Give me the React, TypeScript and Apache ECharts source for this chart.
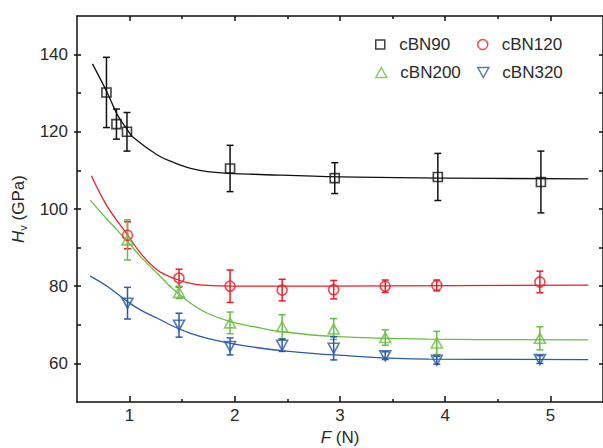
import React, { useEffect, useRef } from 'react';
import * as echarts from 'echarts';

const FONT = '"Liberation Sans", Arial, Helvetica, sans-serif';

const seriesNames = ['cBN90', 'cBN120', 'cBN200', 'cBN320'];
const seriesColors = ['#111111', '#ee1c25', '#6abd45', '#2b5aa8'];

// Measured points (F in N, Hv in GPa, error +/-)
const f90 = [0.78, 0.875, 0.975, 1.955, 2.95, 3.93, 4.91];
const hv90 = [130.2, 122.0, 120.0, 110.5, 108.0, 108.3, 107.0];
const err90 = [9.1, 3.9, 5.0, 6.0, 4.0, 6.1, 8.0];

const fOthers = [0.98, 1.47, 1.955, 2.45, 2.94, 3.43, 3.92, 4.9];
const hv120 = [93.2, 82.1, 80.0, 79.0, 79.1, 80.0, 80.2, 81.1];
const err120 = [3.5, 2.3, 4.2, 2.8, 2.4, 1.6, 1.4, 2.8];
const hv200 = [92.0, 78.4, 70.5, 69.5, 68.9, 66.7, 65.3, 66.5];
const err200 = [5.2, 1.6, 2.8, 3.1, 2.7, 2.0, 3.0, 3.0];
const hv320 = [75.6, 69.9, 64.4, 64.7, 63.9, 62.0, 60.8, 61.0];
const err320 = [4.1, 3.1, 2.2, 1.6, 3.0, 1.0, 1.0, 1.0];

// Fitted curves
const fit90 = [[0.647, 137.6], [0.79, 130.0], [0.884, 124.4], [0.98, 120.5], [1.027, 118.7], [1.264, 114.0], [1.423, 112.0], [1.58, 110.5], [1.74, 109.7], [1.955, 109.25], [2.18, 109.0], [3.0, 108.3], [4.0, 108.0], [5.36, 107.8]];
const fit120 = [[0.637, 108.6], [0.789, 100.6], [0.98, 93.3], [1.106, 88.5], [1.264, 84.2], [1.423, 82.0], [1.58, 80.75], [1.74, 80.2], [1.96, 80.0], [2.18, 80.0], [3.5, 80.1], [5.36, 80.3]];
const fit200 = [[0.625, 102.3], [0.79, 97.2], [0.98, 91.6], [1.106, 87.6], [1.264, 83.3], [1.423, 79.0], [1.58, 75.6], [1.74, 73.0], [1.96, 70.8], [2.18, 69.5], [2.45, 68.2], [2.94, 67.0], [3.84, 66.3], [5.36, 66.1]];
const fit320 = [[0.625, 82.6], [0.79, 79.9], [0.98, 76.0], [1.106, 73.8], [1.264, 71.7], [1.423, 69.5], [1.58, 67.8], [1.74, 66.5], [1.96, 65.2], [2.18, 64.2], [2.45, 63.3], [2.94, 62.2], [3.84, 61.1], [5.36, 61.0]];

const xLabelValues = [1, 2, 3, 4, 5];
const xMinorValues = [1.5, 2.5, 3.5, 4.5];
const yLabelValues = [60, 80, 100, 120, 140];
const yMinorValues = [60, 70, 80, 90, 100, 110, 120, 130, 140];

const symbols = [
  'path://M0,0 L10,0 L10,10 L0,10 Z',
  'circle',
  'path://M5,0 L10,9 L0,9 Z',
  'path://M0,0 L10,0 L5,9 Z',
];
const symbolSizes: any[] = [9, 10, [11, 10], [11, 10]];

const AXIS_COLOR = '#111';
const TEXT_COLOR = '#2a2a2a';

export default function App() {
  const ref = useRef<HTMLDivElement>(null);

  useEffect(() => {
    if (!ref.current) return;
    const chart = echarts.init(ref.current, undefined, { renderer: 'svg' });

    const pointSets = [
      { xs: f90, ys: hv90, es: err90 },
      { xs: fOthers, ys: hv120, es: err120 },
      { xs: fOthers, ys: hv200, es: err200 },
      { xs: fOthers, ys: hv320, es: err320 },
    ];
    const fits = [fit90, fit120, fit200, fit320];

    const series: any[] = [];
    seriesNames.forEach((name, i) => {
      const c = seriesColors[i];
      const ps = pointSets[i];
      series.push({
        name: name + ' fit',
        type: 'line',
        data: fits[i],
        smooth: 0.4,
        showSymbol: false,
        symbol: 'none',
        lineStyle: { color: c, width: 1.3 },
        z: 2,
      });
      series.push({
        name: name + ' err',
        type: 'custom',
        data: ps.xs.map((x, k) => [x, ps.ys[k] - ps.es[k], ps.ys[k] + ps.es[k]]),
        encode: { x: 0, y: [1, 2] },
        renderItem: (params: any, api: any) => {
          const x = api.value(0);
          const lo = api.value(1);
          const hi = api.value(2);
          const top = api.coord([x, hi]);
          const bot = api.coord([x, lo]);
          const w = 3.5;
          const style = { stroke: c, lineWidth: 1.5 };
          return {
            type: 'group',
            children: [
              { type: 'line', shape: { x1: top[0], y1: top[1], x2: bot[0], y2: bot[1] }, style },
              { type: 'line', shape: { x1: top[0] - w, y1: top[1], x2: top[0] + w, y2: top[1] }, style },
              { type: 'line', shape: { x1: bot[0] - w, y1: bot[1], x2: bot[0] + w, y2: bot[1] }, style },
            ],
          };
        },
        z: 3,
      });
      series.push({
        name,
        type: 'scatter',
        data: ps.xs.map((x, k) => [x, ps.ys[k]]),
        symbol: symbols[i],
        symbolSize: symbolSizes[i],
        symbolKeepAspect: false,
        itemStyle: { color: 'rgba(255,255,255,0)', borderColor: c, borderWidth: 1.6 },
        z: 4,
      });
    });

    const legendPos = [
      { left: 375, top: 36 },
      { left: 477, top: 36 },
      { left: 375, top: 64 },
      { left: 477, top: 64 },
    ];
    const legends = seriesNames.map((name, i) => ({
      data: [
        {
          name,
          icon: symbols[i],
          itemStyle: { color: 'rgba(255,255,255,0)', borderColor: seriesColors[i], borderWidth: 1.5 },
        },
      ],
      left: legendPos[i].left,
      top: legendPos[i].top,
      padding: 0,
      itemWidth: 28,
      itemHeight: i === 0 ? 9 : 10,
      symbolKeepAspect: true,
      selectedMode: false,
      textStyle: { fontSize: 17, color: TEXT_COLOR, fontFamily: FONT },
    }));

    const axisLine = { show: true, lineStyle: { color: AXIS_COLOR, width: 1.5 } };
    const tickLine = { color: AXIS_COLOR, width: 1.5 };
    const labelStyle = { fontSize: 17, color: TEXT_COLOR, fontFamily: FONT };

    const option: any = {
      animation: false,
      backgroundColor: '#ffffff',
      textStyle: { fontFamily: FONT },
      grid: { left: 77, right: 0, top: 16, bottom: 46, containLabel: false, outerBoundsMode: 'none' },
      legend: legends,
      xAxis: [
        {
          type: 'value', position: 'bottom', min: 0.5, max: 5.5,
          axisLine,
          axisTick: { show: true, inside: true, length: 6, customValues: xLabelValues, lineStyle: tickLine },
          axisLabel: { show: true, customValues: xLabelValues, margin: 5, ...labelStyle },
          splitLine: { show: false },
          name: '{i|F} (N)',
          nameLocation: 'middle',
          nameGap: 27,
          nameTextStyle: { ...labelStyle, rich: { i: { fontStyle: 'italic', fontSize: 17, color: TEXT_COLOR, fontFamily: FONT } } },
        },
        {
          type: 'value', position: 'bottom', min: 0.5, max: 5.5,
          axisLine: { show: false },
          axisTick: { show: true, inside: true, length: 3, customValues: xMinorValues, lineStyle: tickLine },
          axisLabel: { show: false },
          splitLine: { show: false },
        },
        {
          type: 'value', position: 'top', min: 0.5, max: 5.5,
          axisLine,
          axisTick: { show: true, inside: true, length: 5, customValues: xLabelValues, lineStyle: tickLine },
          axisLabel: { show: false },
          splitLine: { show: false },
        },
        {
          type: 'value', position: 'top', min: 0.5, max: 5.5,
          axisLine: { show: false },
          axisTick: { show: true, inside: true, length: 3, customValues: xMinorValues, lineStyle: tickLine },
          axisLabel: { show: false },
          splitLine: { show: false },
        },
      ],
      yAxis: [
        {
          type: 'value', position: 'left', min: 50, max: 150,
          axisLine,
          axisTick: { show: true, inside: false, length: 3, customValues: yLabelValues, lineStyle: tickLine },
          axisLabel: { show: true, customValues: yLabelValues, margin: 9, ...labelStyle },
          splitLine: { show: false },
          name: '{i|H}{s|v} (GPa)',
          nameLocation: 'middle',
          nameGap: 46,
          nameRotate: 90,
          nameTextStyle: {
            ...labelStyle,
            rich: {
              i: { fontStyle: 'italic', fontSize: 17, color: TEXT_COLOR, fontFamily: FONT },
              s: { fontSize: 11, color: TEXT_COLOR, fontFamily: FONT, verticalAlign: 'bottom', padding: [9, 0, 0, 0] },
            },
          },
        },
        {
          type: 'value', position: 'left', min: 50, max: 150,
          axisLine: { show: false },
          axisTick: { show: true, inside: true, length: 4, customValues: yMinorValues, lineStyle: tickLine },
          axisLabel: { show: false },
          splitLine: { show: false },
        },
        {
          type: 'value', position: 'right', min: 50, max: 150,
          axisLine,
          axisTick: { show: true, inside: true, length: 4, customValues: yMinorValues, lineStyle: tickLine },
          axisLabel: { show: false },
          splitLine: { show: false },
        },
      ],
      series,
    };

    chart.setOption(option);
    return () => chart.dispose();
  }, []);

  return (
    <div
      ref={ref}
      style={{ position: 'absolute', left: 0, top: 0, width: 603, height: 448 }}
    />
  );
}
